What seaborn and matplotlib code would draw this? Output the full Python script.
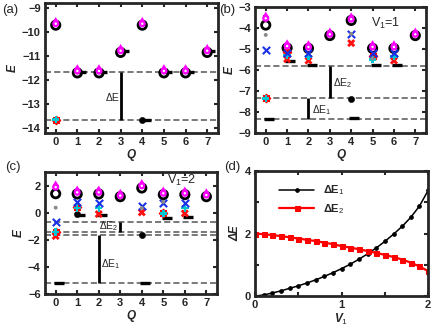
"""Energy spectra vs momentum Q and gaps vs V1 (four panels)."""

import matplotlib

matplotlib.use("Agg")
import matplotlib.pyplot as plt
import numpy as np
import pandas as pd
import seaborn as sns
from matplotlib.path import Path

# ---------------- data ----------------
# panel (a): V1 = 0
a_q = [0, 0, 0, 0,
       1, 1, 1, 2, 2, 2, 3, 3, 3,
       4, 4, 4, 4,
       5, 5, 5, 6, 6, 6, 7, 7, 7]
a_e = [-13.64, -13.64, -9.72, -9.66,
       -11.65, -11.70, -11.62, -11.65, -11.70, -11.62, -10.80, -10.85, -10.78,
       -13.64, -13.64, -9.72, -9.66,
       -11.65, -11.70, -11.62, -11.65, -11.70, -11.62, -10.80, -10.85, -10.78]
a_kind = ["rstar", "cplus", "ring", "tri",
          "gs", "ring", "tri", "gs", "ring", "tri", "gs", "ring", "tri",
          "gs", "dot", "ring", "tri",
          "gs", "ring", "tri", "gs", "ring", "tri", "gs", "ring", "tri"]
a_guides = [-11.65, -13.64]

# panel (b): V1 = 1
b_q = [0, 0, 0, 0, 0, 0, 0,
       1, 1, 1, 1, 1, 1, 1,
       2, 2, 2, 2, 2, 2,
       3, 3,
       4, 4, 4, 4, 4, 4, 4,
       5, 5, 5, 5, 5, 5, 5,
       6, 6, 6, 6, 6, 6,
       7, 7]
b_e = [-3.54, -3.86, -4.33, -5.05, -7.33, -7.35, -8.35,
       -4.86, -4.95, -5.15, -5.20, -5.30, -5.48, -5.57,
       -4.90, -4.97, -5.20, -5.35, -5.55, -5.76,
       -4.30, -4.36,
       -3.58, -3.64, -4.28, -4.28, -4.72, -7.38, -8.30,
       -4.90, -4.97, -5.20, -5.35, -5.45, -5.50, -5.78,
       -4.90, -4.97, -5.20, -5.35, -5.55, -5.76,
       -4.30, -4.36]
b_kind = ["tri", "ring", "gdot", "bx", "rstar", "cplus", "gs",
          "tri", "ring", "rstar", "bx", "cplus", "rx", "gs",
          "tri", "ring", "bx", "cplus", "rx", "gs",
          "tri", "ring",
          "tri", "ring", "gdot", "bx", "rx", "dot", "gs",
          "tri", "ring", "bx", "rstar", "gdot", "cplus", "gs",
          "tri", "ring", "bx", "cplus", "rx", "gs",
          "tri", "ring"]
b_guides = [-5.80, -7.35, -8.33]

# panel (c): V1 = 2
c_q = [0, 0, 0, 0, 0, 0, 0, 0,
       1, 1, 1, 1, 1, 1, 1,
       2, 2, 2, 2, 2, 2,
       3, 3,
       4, 4, 4, 4, 4, 4, 4,
       5, 5, 5, 5, 5, 5, 5,
       6, 6, 6, 6, 6, 6,
       7, 7]
c_e = [1.88, 1.40, 0.37, -0.67, -1.41, -1.45, -1.72, -5.16,
       1.50, 1.38, 0.77, 0.45, 0.35, -0.10, -0.15,
       1.50, 1.38, 0.70, 0.35, -0.10, -0.20,
       1.26, 1.18,
       1.98, 1.82, 0.52, 0.35, 0.02, -1.65, -5.16,
       1.43, 1.33, 0.80, 0.72, 0.00, -0.05, -0.42,
       1.43, 1.33, 0.70, 0.35, -0.05, -0.30,
       1.30, 1.18]
c_kind = ["tri", "ring", "gdot", "bx", "cplus", "rstar", "rx", "gs",
          "tri", "ring", "bx", "rstar", "cplus", "dot", "gs",
          "tri", "ring", "bx", "cplus", "rx", "gs",
          "tri", "ring",
          "tri", "ring", "bx", "gdot", "rx", "dot", "gs",
          "tri", "ring", "gdot", "bx", "rstar", "cplus", "gs",
          "tri", "ring", "bx", "cplus", "rx", "gs",
          "tri", "ring"]
c_guides = [-0.67, -1.41, -1.65, -5.16]

# panel (d): gaps vs V1
v1 = [0.0, 0.1, 0.2, 0.3, 0.4, 0.5, 0.6, 0.7, 0.8, 0.9, 1.0,
      1.1, 1.2, 1.3, 1.4, 1.5, 1.6, 1.7, 1.8, 1.9, 2.0]
gap1 = [0.0, 0.04, 0.10, 0.17, 0.25, 0.33, 0.42, 0.52, 0.63, 0.75, 0.88,
        1.02, 1.18, 1.35, 1.54, 1.75, 1.98, 2.23, 2.52, 2.88, 3.38]
gap2 = [2.00, 1.98, 1.95, 1.92, 1.88, 1.84, 1.80, 1.76, 1.71, 1.66, 1.60,
        1.55, 1.50, 1.44, 1.38, 1.32, 1.25, 1.17, 1.07, 0.95, 0.80]

# ---------------- style ----------------
sns.set_style("ticks")
plt.rcParams["font.family"] = ["Liberation Sans", "DejaVu Sans"]
plt.rcParams["mathtext.fontset"] = "custom"
plt.rcParams["mathtext.rm"] = "Liberation Sans"
plt.rcParams["mathtext.it"] = "Liberation Sans:italic"
plt.rcParams["mathtext.bf"] = "Liberation Sans:bold"

# circle with a triangle on top (the magenta "drop" marker)
_tri = Path([(-0.85, 0.5), (0.85, 0.5), (0.0, 1.9), (-0.85, 0.5)],
            [Path.MOVETO, Path.LINETO, Path.LINETO, Path.CLOSEPOLY])
DROP = Path.make_compound_path(Path.unit_circle(), _tri)

STYLES = {
    "gs": dict(marker="_", s=50, color="black", edgecolor="black", linewidth=2.4),
    "dot": dict(marker="o", s=20, color="black", edgecolor="black"),
    "rstar": dict(marker=(8, 2, 0), s=30, color="red", edgecolor="red", linewidth=1.3),
    "cplus": dict(marker="P", s=28, color="#00c8d2", edgecolor="none"),
    "rx": dict(marker="X", s=34, color="#ff1010", edgecolor="none"),
    "bx": dict(marker="x", s=28, color="#1a2fe6", edgecolor="#1a2fe6", linewidth=1.5),
    "gdot": dict(marker="o", s=8, color="#8a8a8a", edgecolor="none"),
    "ring": dict(marker="o", s=36, color="black", facecolor="none",
                 edgecolor="black", linewidth=2.0),
    "tri": dict(marker=DROP, s=95, color="#ff00ff", edgecolor="none"),
}
ORDER = ["gs", "dot", "ring", "rx", "rstar", "cplus", "bx", "gdot", "tri"]


def style_axes(ax):
    for sp in ax.spines.values():
        sp.set_linewidth(2)
        sp.set_visible(True)
    ax.tick_params(direction="in", length=3, width=1.5, top=True, right=True,
                   labelsize=8, pad=3)
    for lab in ax.get_xticklabels() + ax.get_yticklabels():
        lab.set_fontweight("bold")


def spectrum(ax, q, e, kind, guides, ylim, yticks):
    df = pd.DataFrame({"Q": q, "E": e, "kind": kind})
    for y in guides:
        ax.axhline(y, color="#555555", lw=1.1, ls=(0, (4, 2)), zorder=1)
    for k in ORDER:
        sub = df[df["kind"] == k].copy()
        if sub.empty:
            continue
        if k == "gs":
            sub["Q"] = sub["Q"] + 0.15
        sns.scatterplot(data=sub, x="Q", y="E", ax=ax, legend=False, zorder=3,
                        **STYLES[k])
        if k == "tri":
            sns.scatterplot(data=sub, x="Q", y="E", ax=ax, legend=False, zorder=4,
                            marker="o", s=3, color="white", edgecolor="none")
    ax.set_xlim(-0.5, 7.5)
    ax.set_ylim(*ylim)
    ax.set_xticks(range(8))
    ax.set_yticks(yticks)
    ax.set_xlabel("Q", fontsize=8.5, fontweight="bold", fontstyle="italic", labelpad=1)
    ax.set_ylabel("E", fontsize=8.5, fontweight="bold", fontstyle="italic", labelpad=2)
    style_axes(ax)


fig = plt.figure(figsize=(4.36, 3.32), dpi=100)
ax_a = fig.add_axes([0.103, 0.599, 0.397, 0.392])
ax_b = fig.add_axes([0.585, 0.599, 0.392, 0.380])
ax_c = fig.add_axes([0.103, 0.114, 0.395, 0.368])
ax_d = fig.add_axes([0.585, 0.108, 0.397, 0.377])

# (a)
spectrum(ax_a, a_q, a_e, a_kind, a_guides, (-14.2, -8.8), range(-14, -8))
ax_a.vlines(3, a_guides[1], a_guides[0], color="black", lw=2, zorder=2)
ax_a.text(2.93, -12.75, "ΔE", fontsize=7.5, ha="right", va="center")

# (b)
spectrum(ax_b, b_q, b_e, b_kind, b_guides, (-9, -3), range(-9, -2))
ax_b.vlines(3, b_guides[1], b_guides[0], color="black", lw=2, zorder=2)
ax_b.vlines(2, b_guides[2], b_guides[1], color="black", lw=2, zorder=2)
ax_b.text(3.15, -6.6, "ΔE$_2$", fontsize=7.5, ha="left", va="center")
ax_b.text(2.15, -7.9, "ΔE$_1$", fontsize=7.5, ha="left", va="center")
ax_b.text(4.95, -3.8, "V$_1$=1", fontsize=9, ha="left", va="center")

# (c)
spectrum(ax_c, c_q, c_e, c_kind, c_guides, (-6, 3), [-6, -4, -2, 0, 2])
ax_c.vlines(3, c_guides[1], c_guides[0], color="black", lw=2, zorder=2)
ax_c.vlines(2, c_guides[3], c_guides[2], color="black", lw=2, zorder=2)
ax_c.text(2.9, -1.0, "ΔE$_2$", fontsize=7.5, ha="right", va="center")
ax_c.text(2.12, -3.75, "ΔE$_1$", fontsize=7.5, ha="left", va="center")
ax_c.text(5.15, 2.35, "V$_1$=2", fontsize=9, ha="left", va="center")

# (d)
gaps = pd.DataFrame({"V1": v1, "gap1": gap1, "gap2": gap2})
sns.lineplot(data=gaps, x="V1", y="gap1", ax=ax_d, color="black", lw=1.1,
             marker="o", markersize=2.6, markeredgecolor="black",
             label="ΔE$_1$")
sns.lineplot(data=gaps, x="V1", y="gap2", ax=ax_d, color="#ff0000", lw=1.6,
             marker="s", markersize=3.6, markeredgecolor="#ff0000",
             label="ΔE$_2$")
ax_d.set_xlim(0, 2)
ax_d.set_ylim(0, 4)
ax_d.set_xticks([0, 1, 2])
ax_d.set_xticks([0.5, 1.5], minor=True)
ax_d.set_yticks([0, 2, 4])
ax_d.set_yticks([1, 3], minor=True)
ax_d.tick_params(which="minor", direction="in", length=3, width=1.5,
                 top=True, right=True)
ax_d.set_xlabel("V$_1$", fontsize=8.5, fontweight="bold", fontstyle="italic", labelpad=1)
ax_d.set_ylabel("ΔE", fontsize=8.5, fontweight="bold", fontstyle="italic", labelpad=2)
leg = ax_d.legend(loc="upper left", bbox_to_anchor=(0.08, 0.98), frameon=False,
                  handlelength=3.2, handletextpad=0.8,
                  labelspacing=0.4, prop=dict(weight="bold", size=8))
style_axes(ax_d)

# panel letters
fig.text(0.005, 0.988, "(a)", fontsize=9.5, va="top", ha="left")
fig.text(0.502, 0.988, "(b)", fontsize=9.5, va="top", ha="left")
fig.text(0.012, 0.515, "(c)", fontsize=9.5, va="top", ha="left")
fig.text(0.514, 0.515, "(d)", fontsize=9.5, va="top", ha="left")

fig.savefig("out.png", dpi=100)
plt.close(fig)
